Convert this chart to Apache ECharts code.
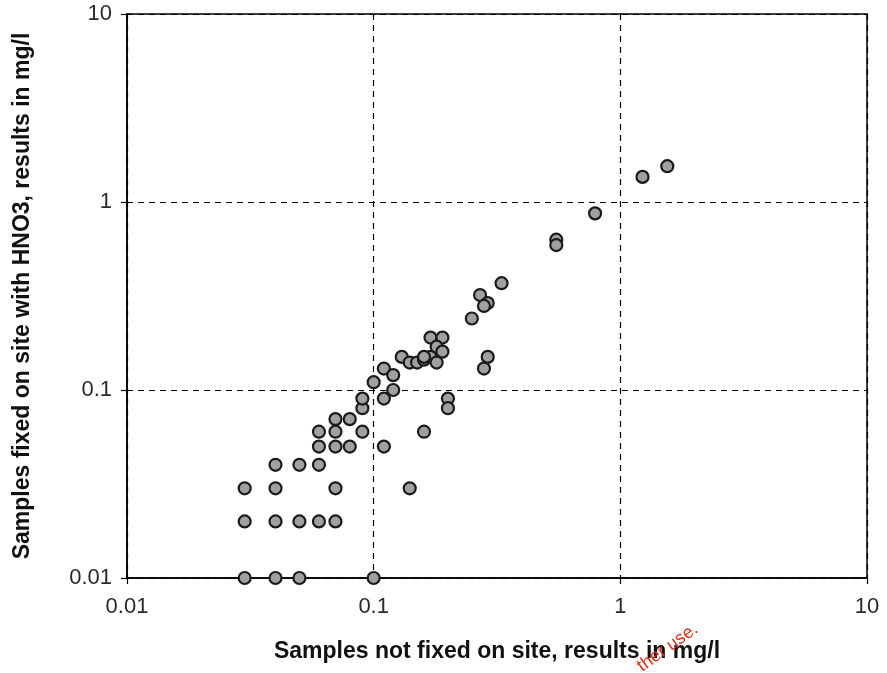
<!DOCTYPE html>
<html>
<head>
<meta charset="utf-8">
<script src="https://cdn.jsdelivr.net/npm/echarts@6/dist/echarts.min.js"></script>
<style>
  html, body { margin: 0; padding: 0; background: #fff; }
  #chart { width: 887px; height: 673px; }
</style>
</head>
<body>
<div id="chart"></div>
<script>
// Paired measurements (mg/l): unfixed sample result vs. HNO3-fixed result
const notFixed = [
  0.03, 0.04, 0.05, 0.10,
  0.03, 0.04, 0.05, 0.06, 0.07,
  0.03, 0.04, 0.07, 0.14,
  0.04, 0.05, 0.06,
  0.06, 0.07, 0.08, 0.11,
  0.06, 0.07, 0.09, 0.16,
  0.07, 0.08,
  0.09, 0.09, 0.10, 0.11, 0.12, 0.11, 0.12, 0.13,
  0.14, 0.15, 0.16, 0.17, 0.18, 0.17, 0.19, 0.18, 0.19, 0.16,
  0.20, 0.20, 0.29, 0.28, 0.25, 0.27, 0.29, 0.28, 0.33,
  0.55, 0.55, 0.79, 1.23, 1.55
];
const fixedHNO3 = [
  0.01, 0.01, 0.01, 0.01,
  0.02, 0.02, 0.02, 0.02, 0.02,
  0.03, 0.03, 0.03, 0.03,
  0.04, 0.04, 0.04,
  0.05, 0.05, 0.05, 0.05,
  0.06, 0.06, 0.06, 0.06,
  0.07, 0.07,
  0.08, 0.09, 0.11, 0.09, 0.10, 0.13, 0.12, 0.15,
  0.14, 0.14, 0.145, 0.15, 0.14, 0.19, 0.19, 0.17, 0.16, 0.15,
  0.09, 0.08, 0.15, 0.13, 0.24, 0.32, 0.29, 0.28, 0.37,
  0.63, 0.59, 0.87, 1.36, 1.55
];
const tickLabels = ['0.01', '0.1', '1', '10'];

const points = notFixed.map((x, i) => [x, fixedHNO3[i]]);
const fmt = v => {
  const s = tickLabels.find(t => Math.abs(parseFloat(t) - v) < v * 1e-6);
  return s || '';
};

const FONT = 'Liberation Sans, Arial, sans-serif';
const axisCommon = {
  type: 'log',
  logBase: 10,
  min: 0.01,
  max: 10,
  nameLocation: 'middle',
  nameTextStyle: { color: '#111', fontSize: 23, fontWeight: 'bold', fontFamily: FONT },
  axisLine: { show: true, lineStyle: { color: '#000', width: 1.5 } },
  axisTick: { show: true, length: 6, lineStyle: { color: '#000', width: 1.2 } },
  axisLabel: { color: '#2a2a2a', fontSize: 22, fontFamily: FONT, formatter: fmt },
  splitLine: { show: true, lineStyle: { color: '#000', width: 1.2, type: [6, 5] } },
  minorTick: { show: false }
};

const chart = echarts.init(document.getElementById('chart'), null, { renderer: 'canvas' });
chart.setOption({
  animation: false,
  backgroundColor: '#fff',
  grid: {
    left: 127, top: 14, right: 20, bottom: 95,
    show: true, borderColor: '#000', borderWidth: 1.5, backgroundColor: 'transparent'
  },
  xAxis: Object.assign({}, axisCommon, {
    name: 'Samples not fixed on site, results in mg/l',
    nameGap: 62,
    axisLabel: Object.assign({}, axisCommon.axisLabel, { margin: 18 })
  }),
  yAxis: Object.assign({}, axisCommon, {
    name: 'Samples fixed on site with HNO3, results in mg/l',
    nameGap: 93,
    axisLabel: Object.assign({}, axisCommon.axisLabel, { margin: 15 })
  }),
  series: [{
    type: 'scatter',
    data: points,
    symbol: 'circle',
    symbolSize: 12,
    clip: false,
    itemStyle: { color: '#a0a0a0', borderColor: '#1a1a1a', borderWidth: 2.2, opacity: 1 }
  }],
  graphic: [{
    type: 'text',
    left: 634,
    top: 620,
    rotation: 0.62,
    z: 100,
    style: {
      text: 'ther use.',
      fill: '#e0301e',
      fontSize: 18,
      fontFamily: FONT
    }
  }]
});
</script>
</body>
</html>
